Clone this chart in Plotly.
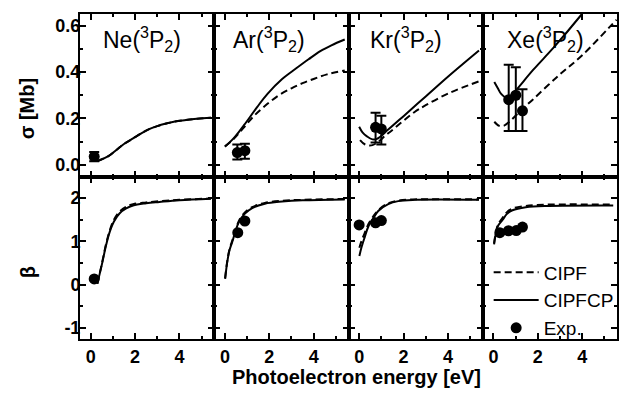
import plotly.graph_objects as go
from plotly.subplots import make_subplots

# ---------------- data ----------------
panel_names = ["Ne(<sup>3</sup>P<sub>2</sub>)", "Ar(<sup>3</sup>P<sub>2</sub>)",
               "Kr(<sup>3</sup>P<sub>2</sub>)", "Xe(<sup>3</sup>P<sub>2</sub>)"]

# cross sections (sigma, Mb)
ne_sig_x = [0.3, 0.8, 1.16, 1.5, 1.91, 2.3, 2.66, 3.0, 3.4, 3.8, 4.3, 4.8, 5.42]
ne_sig_cipfcp = [0.016, 0.038, 0.064, 0.09, 0.114, 0.137, 0.155, 0.167, 0.178, 0.187, 0.193, 0.199, 0.203]
ne_sig_cipf = [0.016, 0.038, 0.064, 0.09, 0.114, 0.137, 0.155, 0.167, 0.178, 0.187, 0.193, 0.199, 0.203]

ar_sig_x_cipfcp = [0.0, 0.4, 0.86, 1.46, 1.91, 2.58, 3.2, 3.77, 4.3, 4.8, 5.4]
ar_sig_cipfcp = [0.078, 0.115, 0.171, 0.25, 0.305, 0.37, 0.415, 0.455, 0.49, 0.515, 0.54]
ar_sig_x_cipf = [0.0, 0.4, 0.86, 1.3, 1.76, 2.4, 3.0, 3.5, 4.0, 4.6, 5.4]
ar_sig_cipf = [0.08, 0.112, 0.162, 0.21, 0.25, 0.298, 0.33, 0.352, 0.37, 0.39, 0.407]

kr_sig_x_cipfcp = [0.0, 0.15, 0.35, 0.6, 0.8, 1.31, 2.0, 3.0, 4.0, 5.4]
kr_sig_cipfcp = [0.164, 0.14, 0.123, 0.11, 0.112, 0.152, 0.21, 0.295, 0.38, 0.493]
kr_sig_x_cipf = [0.04, 0.27, 0.6, 1.31, 2.5, 3.0, 4.0, 5.4]
kr_sig_cipf = [0.107, 0.088, 0.085, 0.136, 0.228, 0.257, 0.307, 0.36]

xe_sig_x_cipfcp = [0.04, 0.2, 0.34, 0.58, 0.8, 1.01, 1.8, 2.73, 3.87, 4.0]
xe_sig_cipfcp = [0.357, 0.33, 0.307, 0.29, 0.3, 0.321, 0.41, 0.507, 0.636, 0.652]
xe_sig_x_cipf = [0.04, 0.27, 0.5, 0.72, 1.3, 1.76, 2.95, 3.99, 5.2, 5.55]
xe_sig_cipf = [0.186, 0.168, 0.17, 0.186, 0.24, 0.28, 0.386, 0.471, 0.59, 0.625]

# experimental cross sections
ne_exp_x = [0.16]
ne_exp_sig = [0.036]
ne_exp_err_up = [0.02]
ne_exp_err_dn = [0.02]
ar_exp_x = [0.56, 0.9]
ar_exp_sig = [0.053, 0.061]
ar_exp_err_up = [0.035, 0.03]
ar_exp_err_dn = [0.03, 0.035]
kr_exp_x = [0.74, 1.0]
kr_exp_sig = [0.162, 0.155]
kr_exp_err_up = [0.063, 0.057]
kr_exp_err_dn = [0.065, 0.067]
xe_exp_x = [0.69, 1.01, 1.31]
xe_exp_sig = [0.281, 0.30, 0.233]
xe_exp_err_up = [0.15, 0.121, 0.093]
xe_exp_err_dn = [0.135, 0.154, 0.087]

# asymmetry parameters (beta)
ne_beta_x = [0.3, 0.5, 0.7, 0.86, 1.05, 1.31, 1.6, 1.91, 2.5, 3.1, 4.0, 5.42]
ne_beta_cipfcp = [0.02, 0.45, 0.92, 1.22, 1.46, 1.65, 1.76, 1.83, 1.88, 1.91, 1.95, 1.985]
ne_beta_cipf = [0.02, 0.47, 0.95, 1.25, 1.5, 1.69, 1.8, 1.86, 1.9, 1.93, 1.96, 1.99]

ar_beta_x = [0.01, 0.1, 0.2, 0.34, 0.5, 0.64, 0.9, 1.23, 1.8, 2.58, 3.5, 5.4]
ar_beta_cipfcp = [0.13, 0.5, 0.78, 1.0, 1.28, 1.45, 1.64, 1.77, 1.87, 1.92, 1.95, 1.97]
ar_beta_cipf = [0.15, 0.52, 0.8, 1.03, 1.3, 1.48, 1.67, 1.79, 1.89, 1.94, 1.96, 1.98]

kr_beta_x = [0.01, 0.1, 0.24, 0.42, 0.6, 0.86, 1.31, 1.76, 2.5, 5.4]
kr_beta_cipfcp = [0.66, 0.85, 1.08, 1.35, 1.5, 1.7, 1.86, 1.93, 1.96, 1.96]
kr_beta_cipf = [0.85, 1.0, 1.18, 1.4, 1.55, 1.72, 1.88, 1.94, 1.97, 1.97]

xe_beta_x = [0.03, 0.09, 0.2, 0.42, 0.6, 0.86, 1.46, 2.5, 5.4]
xe_beta_cipfcp = [0.93, 1.12, 1.35, 1.5, 1.63, 1.72, 1.79, 1.82, 1.83]
xe_beta_cipf = [0.95, 1.15, 1.38, 1.55, 1.67, 1.76, 1.82, 1.85, 1.85]

# experimental beta
ne_exp_beta_x = [0.16]
ne_exp_beta = [0.13]
ar_exp_beta_x = [0.58, 0.9]
ar_exp_beta = [1.2, 1.47]
kr_exp_beta_x = [0.0, 0.74, 1.0]
kr_exp_beta = [1.38, 1.43, 1.48]
xe_exp_beta_x = [0.29, 0.68, 1.03, 1.31]
xe_exp_beta = [1.2, 1.245, 1.25, 1.33]

# axis ticks
x_tickvals = [0, 2, 4]
x_ticktext = ["0", "2", "4"]
sig_tickvals = [0.0, 0.2, 0.4, 0.6]
sig_ticktext = ["0.0", "0.2", "0.4", "0.6"]
beta_tickvals = [-1, 0, 1, 2]
beta_ticktext = ["-1", "0", "1", "2"]

x_range = [-0.48, 5.57]
sig_range = [-0.05, 0.65]
beta_range = [-1.26, 2.5]

# ---------------- figure ----------------
FONT = "Liberation Sans, Arial, sans-serif"
fig = make_subplots(rows=2, cols=4, horizontal_spacing=0, vertical_spacing=0)

dash_style = dict(color="black", width=2, dash="7px,4px")
solid_style = dict(color="black", width=2)
marker_style = dict(color="black", size=11, symbol="circle")

sig_sets = [
    (ne_sig_x, ne_sig_cipf, ne_sig_x, ne_sig_cipfcp, ne_exp_x, ne_exp_sig, ne_exp_err_up, ne_exp_err_dn),
    (ar_sig_x_cipf, ar_sig_cipf, ar_sig_x_cipfcp, ar_sig_cipfcp, ar_exp_x, ar_exp_sig, ar_exp_err_up, ar_exp_err_dn),
    (kr_sig_x_cipf, kr_sig_cipf, kr_sig_x_cipfcp, kr_sig_cipfcp, kr_exp_x, kr_exp_sig, kr_exp_err_up, kr_exp_err_dn),
    (xe_sig_x_cipf, xe_sig_cipf, xe_sig_x_cipfcp, xe_sig_cipfcp, xe_exp_x, xe_exp_sig, xe_exp_err_up, xe_exp_err_dn),
]
beta_sets = [
    (ne_beta_x, ne_beta_cipf, ne_beta_cipfcp, ne_exp_beta_x, ne_exp_beta),
    (ar_beta_x, ar_beta_cipf, ar_beta_cipfcp, ar_exp_beta_x, ar_exp_beta),
    (kr_beta_x, kr_beta_cipf, kr_beta_cipfcp, kr_exp_beta_x, kr_exp_beta),
    (xe_beta_x, xe_beta_cipf, xe_beta_cipfcp, xe_exp_beta_x, xe_exp_beta),
]

for c, (xd, yd, xs, ys, xe, ye, eu, ed) in enumerate(sig_sets, start=1):
    first = (c == 1)
    fig.add_trace(go.Scatter(x=xd, y=yd, mode="lines", line=dash_style, line_shape="spline",
                             name="CIPF", showlegend=first, legendrank=1), row=1, col=c)
    fig.add_trace(go.Scatter(x=xs, y=ys, mode="lines", line=solid_style, line_shape="spline",
                             name="CIPFCP", showlegend=first, legendrank=2), row=1, col=c)
    fig.add_trace(go.Scatter(x=xe, y=ye, mode="markers", marker=marker_style,
                             error_y=dict(type="data", array=eu, arrayminus=ed, color="black",
                                          thickness=2, width=5),
                             name="Exp.", showlegend=first, legendrank=3), row=1, col=c)

for c, (xb, bd, bs, xe, be) in enumerate(beta_sets, start=1):
    fig.add_trace(go.Scatter(x=xb, y=bd, mode="lines", line=dash_style, line_shape="spline",
                             showlegend=False), row=2, col=c)
    fig.add_trace(go.Scatter(x=xb, y=bs, mode="lines", line=solid_style, line_shape="spline",
                             showlegend=False), row=2, col=c)
    fig.add_trace(go.Scatter(x=xe, y=be, mode="markers", marker=marker_style,
                             showlegend=False), row=2, col=c)

tickfont = dict(family=FONT, size=18, color="black", weight="bold")
common = dict(showline=True, linewidth=2, linecolor="black", mirror="ticks",
              ticks="inside", ticklen=6, tickwidth=2, tickcolor="black",
              showgrid=False, zeroline=False, tickfont=tickfont)

for r in (1, 2):
    for c in range(1, 5):
        fig.update_xaxes(range=x_range, tickmode="array", tickvals=x_tickvals, ticktext=x_ticktext,
                         minor=dict(dtick=1, tick0=0, ticks="inside", ticklen=3, tickwidth=2,
                                    tickcolor="black", showgrid=False),
                         showticklabels=(r == 2), ticklabelstandoff=0, **common, row=r, col=c)
        if r == 1:
            fig.update_yaxes(range=sig_range, tickmode="array", tickvals=sig_tickvals, ticktext=sig_ticktext,
                             minor=dict(dtick=0.1, tick0=0, ticks="inside", ticklen=3, tickwidth=2,
                                        tickcolor="black", showgrid=False),
                             showticklabels=(c == 1), ticklabelstandoff=-6, **common, row=r, col=c)
        else:
            fig.update_yaxes(range=beta_range, tickmode="array", tickvals=beta_tickvals, ticktext=beta_ticktext,
                             minor=dict(dtick=0.5, tick0=0, ticks="inside", ticklen=3, tickwidth=2,
                                        tickcolor="black", showgrid=False),
                             showticklabels=(c == 1), ticklabelstandoff=-6, **common, row=r, col=c)

# panel titles
title_x = [0.16, 0.125, 0.145, 0.165]
for c in range(4):
    xa = "x" if c == 0 else f"x{c+1}"
    ya = "y" if c == 0 else f"y{c+1}"
    fig.add_annotation(text=panel_names[c], xref=f"{xa} domain", yref=f"{ya} domain",
                       x=title_x[c], y=0.96, xanchor="left", yanchor="top", showarrow=False,
                       font=dict(family=FONT, size=23, color="black"))

axis_title_font = dict(family=FONT, size=20, color="black", weight="bold")
fig.add_annotation(text="σ [Mb]", xref="paper", yref="paper", x=-0.098, y=0.708,
                   xanchor="center", yanchor="middle",
                   textangle=-90, showarrow=False, font=axis_title_font)
fig.add_annotation(text="β", xref="paper", yref="paper", x=-0.097, y=0.205,
                   xanchor="center", yanchor="middle",
                   textangle=-90, showarrow=False, font=axis_title_font)
fig.add_annotation(text="Photoelectron energy [eV]", xref="paper", yref="paper", x=0.515, y=-0.118,
                   xanchor="center", yanchor="middle",
                   showarrow=False, font=axis_title_font)

# page body has an 8px margin, so the figure is made 8px smaller and margins adjusted
fig.update_layout(
    width=621, height=386,
    margin=dict(l=72, r=12, t=4, b=55),
    paper_bgcolor="white", plot_bgcolor="white",
    showlegend=True,
    legend=dict(x=0.761, y=0.263, xanchor="left", yanchor="top",
                bgcolor="rgba(0,0,0,0)", borderwidth=0, itemwidth=45,
                font=dict(family=FONT, size=19, color="black"), tracegroupgap=0),
)

fig.write_html("out.html")
